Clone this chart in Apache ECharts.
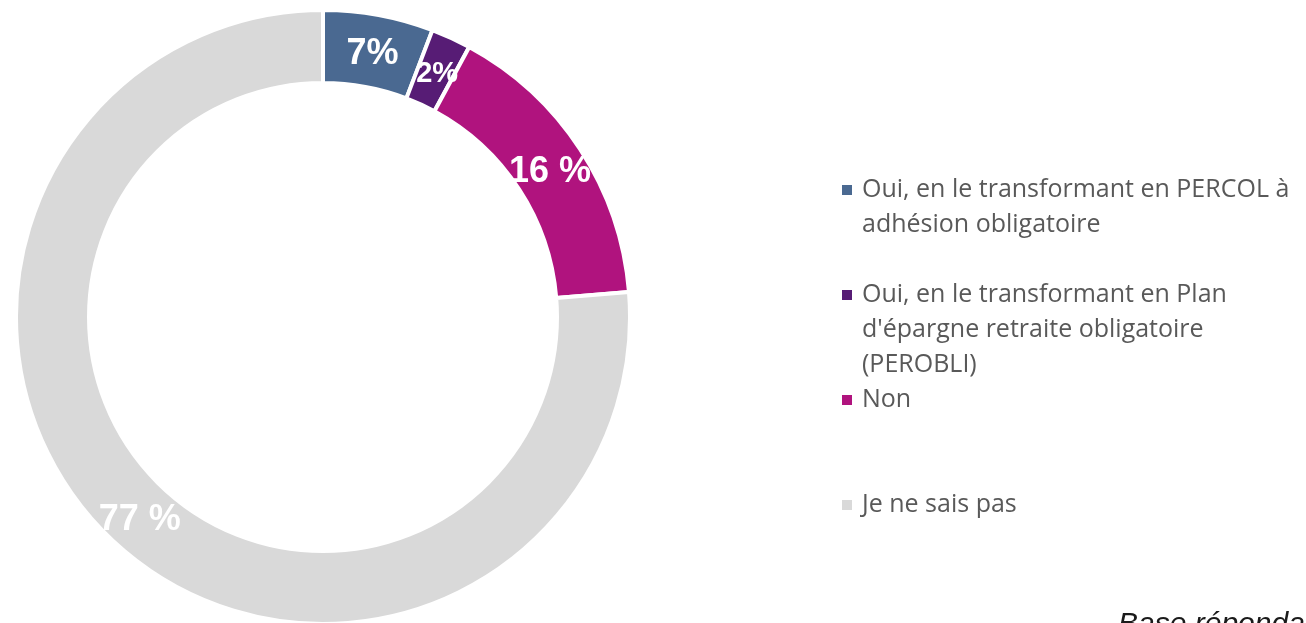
<!DOCTYPE html>
<html>
<head>
<meta charset="utf-8">
<script src="https://cdn.jsdelivr.net/npm/echarts@6/dist/echarts.min.js"></script>
<style>
html,body{margin:0;padding:0;background:#fff;}
#c{width:1306px;height:623px;}
</style>
</head>
<body>
<div id="c"></div>
<script>
// Data
const categories = [
  'Oui, en le transformant en PERCOL à adhésion obligatoire',
  "Oui, en le transformant en Plan d'épargne retraite obligatoire (PEROBLI)",
  'Non',
  'Je ne sais pas'
];
const legendLines = [
  ['Oui, en le transformant en PERCOL à', 'adhésion obligatoire'],
  ['Oui, en le transformant en Plan', "d'épargne retraite obligatoire", '(PEROBLI)'],
  ['Non'],
  ['Je ne sais pas']
];
const values = [5.8, 2.1, 15.8, 76.3];
const valueLabels = ['7%', '2%', '16 %', '77 %'];
const colors = ['#4A6991', '#571C75', '#B0137E', '#D9D9D9'];
const labelSizes = [36, 29, 36, 36];
const labelOffsets = [[0, 6], [0, 6], [-2, 5], [2, 2]];
const footnote = 'Base répondants';

const legendIconCenters = [190, 295, 400, 505];
const LH = 35;

const chart = echarts.init(document.getElementById('c'), null, {renderer: 'canvas'});

const legends = categories.map((name, i) => {
  const n = legendLines[i].length;
  const totalLines = 2 * n - 1; // blank lines on top so the first line sits at the icon
  const textHeight = totalLines * LH;
  return {
    show: true,
    orient: 'vertical',
    left: 840,
    top: legendIconCenters[i] - textHeight / 2,
    padding: 0,
    icon: 'rect',
    itemWidth: 12,
    itemHeight: 12,
    selectedMode: false,
    data: [name],
    formatter: () => '\n'.repeat(n - 1) + legendLines[i].join('\n'),
    textStyle: {
      fontFamily: 'Open Sans',
      fontSize: 25,
      lineHeight: LH,
      color: '#595959',
      padding: [0, 0, 0, 4]
    }
  };
});

chart.setOption({
  animation: false,
  backgroundColor: '#ffffff',
  color: colors,
  legend: legends,
  series: [{
    type: 'pie',
    center: [323, 317],
    radius: [234, 307],
    startAngle: 90,
    clockwise: true,
    avoidLabelOverlap: false,
    emphasis: {disabled: true},
    itemStyle: {borderColor: '#ffffff', borderWidth: 4},
    label: {
      show: true,
      position: 'inside',
      color: '#ffffff',
      fontFamily: 'Liberation Sans',
      fontWeight: 'bold',
      fontSize: 36,
      formatter: p => valueLabels[p.dataIndex]
    },
    labelLine: {show: false},
    data: categories.map((name, i) => ({
      name: name,
      value: values[i],
      label: {fontSize: labelSizes[i], offset: labelOffsets[i]}
    }))
  }],
  graphic: [{
    type: 'text',
    left: 1118,
    top: 610,
    style: {
      text: footnote,
      font: 'italic 30px "Liberation Sans"',
      fill: '#1a1a1a'
    }
  }]
});
</script>
</body>
</html>
